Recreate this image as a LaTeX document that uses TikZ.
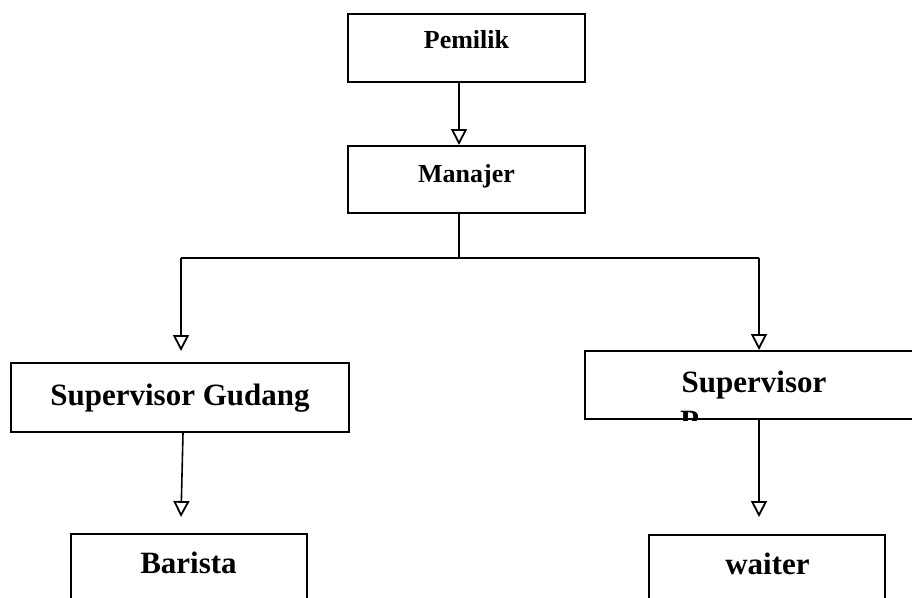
\documentclass[tikz,border=0pt]{standalone}
\usepackage{fontspec}
\setmainfont{Liberation Serif}
\usetikzlibrary{arrows.meta}
\begin{document}
\begin{tikzpicture}[x=1pt,y=-1pt,
  box/.style={draw=black,line width=2pt,inner sep=0pt,minimum width=#1},
  lblbig/.style={font=\fontsize{31}{37}\selectfont\bfseries,inner sep=0pt,anchor=base},
  lblsmall/.style={font=\fontsize{26}{31}\selectfont\bfseries,inner sep=0pt,anchor=base},
  conn/.style={line width=1.6pt},
  arr/.style={line width=1.6pt,-{Triangle[open,width=16pt,length=16pt,line width=1.8pt]}}]
\useasboundingbox (0,0) rectangle (912,597);
\clip (0,0) rectangle (912,597);
% boxes
\node[box=237pt,minimum height=68pt] (pem) at (466.5,48) {};
\node[lblsmall] (pemt) at (466.5,48) {Pemilik};
\node[box=237pt,minimum height=67pt] (man) at (466.5,179.5) {};
\node[lblsmall] (mant) at (466.5,182) {Manajer};
\node[box=338pt,minimum height=69pt] (sg) at (180,397.5) {};
\node[lblbig] (sgt) at (180,405) {Supervisor Gudang};
\node[box=338pt,minimum height=68pt] (sp) at (754,385) {};
\node[lblbig] (spt) at (754,392) {Supervisor};
\begin{scope}
  \clip (sp.north west) rectangle (sp.south east);
  \node[lblbig,anchor=base west] (spt2) at (680,431) {P};
\end{scope}
\node[box=236pt,minimum height=80pt] (bar) at (189,574) {};
\node[lblbig] (bart) at (188.5,573) {Barista};
\node[box=236pt,minimum height=80pt] (wai) at (767,575) {};
\node[lblbig] (wait) at (767.5,574) {waiter};
% coordinates
\coordinate (cx) at (459,0);
\coordinate (jl) at (181,258);
\coordinate (jc) at (459,258);
\coordinate (jr) at (759,258);
\coordinate (tipL) at (181,351);
\coordinate (sgout) at (183,0);
\coordinate (tipB) at (181,517);
\coordinate (tipW) at (759,517);
% connectors
\draw[arr] (pem.south -| cx) -- (man.north -| cx);
\draw[conn] (man.south -| jc) -- (jc);
\draw[conn] (jl) -- (jr);
\draw[arr] (jl) -- (tipL);
\draw[arr] (jr) -- (sp.north -| jr);
\draw[arr] (sg.south -| sgout) -- (tipB);
\draw[arr] (sp.south -| jr) -- (tipW);
\end{tikzpicture}
\end{document}
